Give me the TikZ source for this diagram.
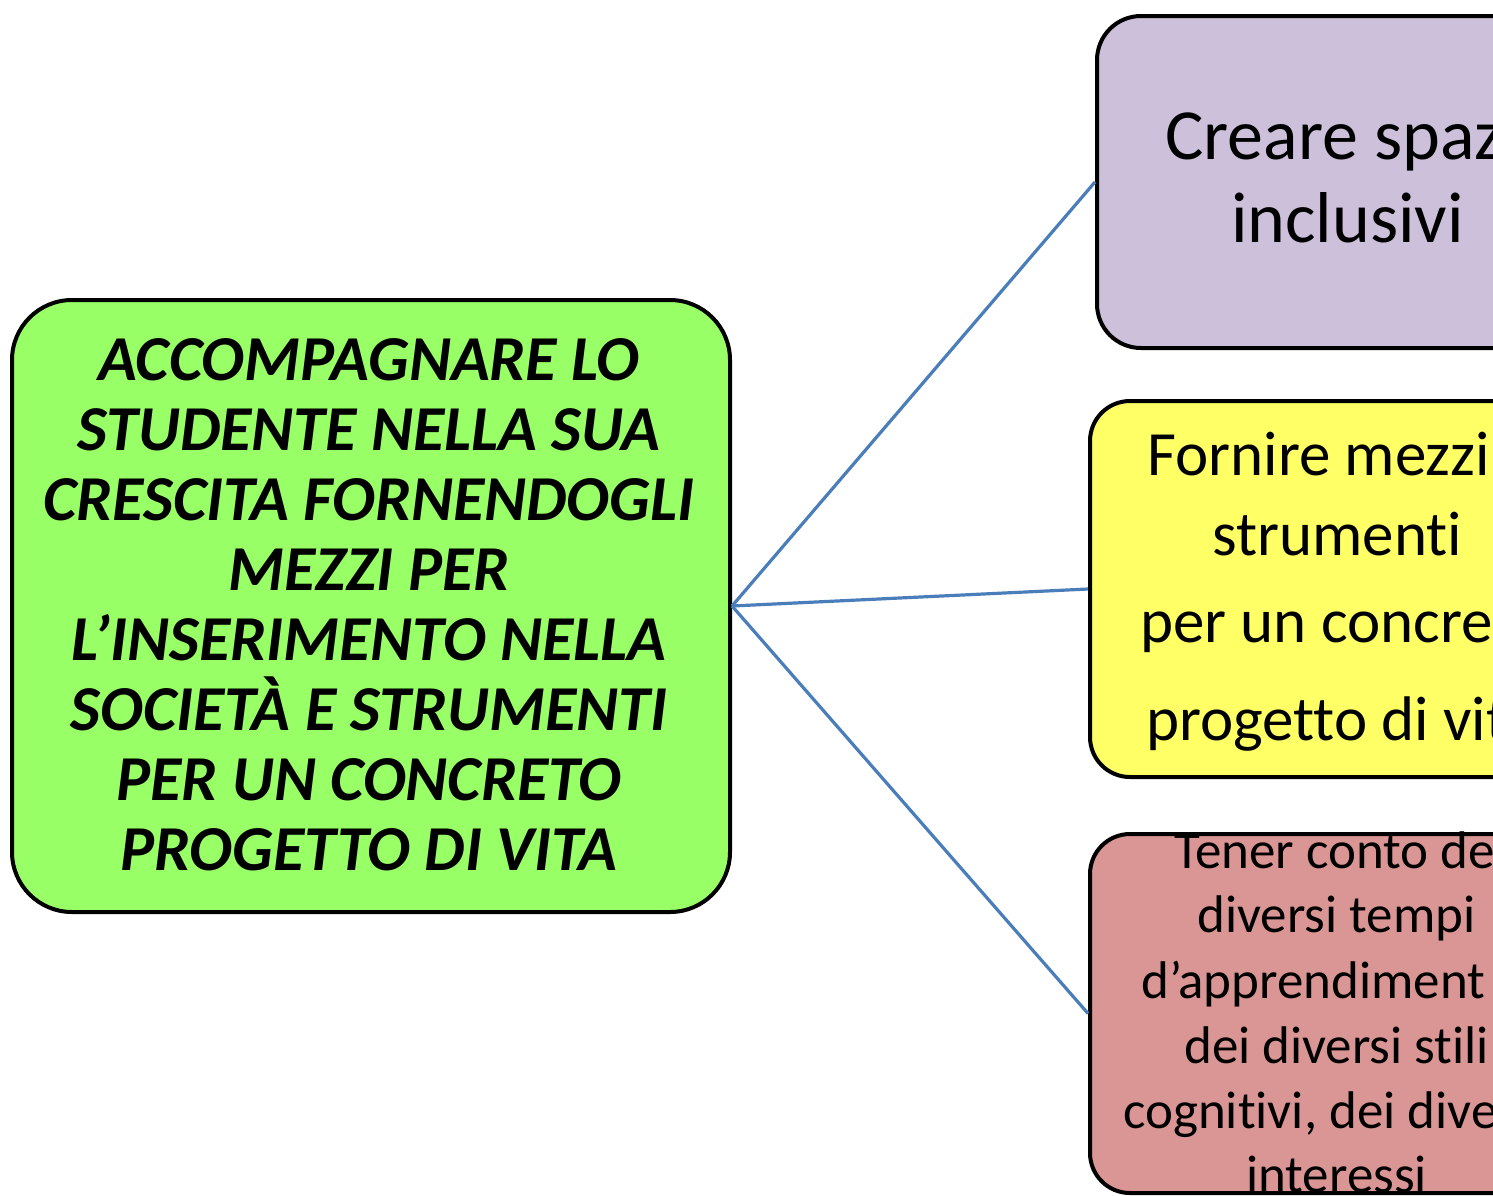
\documentclass[tikz,border=0pt]{standalone}
\usepackage{fontspec}
\setmainfont{Carlito}[Ligatures={NoCommon}]
\definecolor{mainfill}{HTML}{99FF66}
\definecolor{purplefill}{HTML}{CCC0DA}
\definecolor{yellowfill}{HTML}{FFFF66}
\definecolor{redfill}{HTML}{D99694}
\definecolor{linkcol}{HTML}{4A7EBB}
\begin{document}
\begin{tikzpicture}[x=1pt,y=-1pt,
  box/.style={draw=black, line width=4pt, rectangle, inner sep=0pt},
  link/.style={draw=linkcol, line width=3.2pt},
  lineP/.style={anchor=base west, inner sep=0pt, font=\fontsize{72}{86}\selectfont},
  lineY/.style={anchor=base west, inner sep=0pt, font=\fontsize{63}{75}\selectfont},
  lineR/.style={anchor=base west, inner sep=0pt, font=\fontsize{53}{64}\selectfont}]
\useasboundingbox (0,0) rectangle (1493,1195);
\clip (0,0) rectangle (1493,1195);
\fill[white] (0,0) rectangle (1493,1195);
% boxes
\node[box, fill=mainfill, rounded corners=60pt, minimum width=718pt, minimum height=612pt] (main) at (371,606) {};
\node[box, fill=purplefill, rounded corners=44pt, minimum width=460pt, minimum height=332pt] (purple) at (1327,182) {};
\node[box, fill=yellowfill, rounded corners=40pt, minimum width=460pt, minimum height=376pt] (yellow) at (1320,589) {};
\node[box, fill=redfill, rounded corners=40pt, minimum width=460pt, minimum height=359pt] (red) at (1320,1013.5) {};
% connectors
\draw[link] (main.east) -- (purple.west);
\draw[link] (main.east) -- (yellow.west);
\draw[link] (main.east) -- (red.west);
% main text
\node[align=center, inner sep=0pt, font=\fontsize{64}{70}\selectfont\bfseries\itshape] (maintext) at (369,605)
{ACCOMPAGNARE LO\\STUDENTE NELLA SUA\\CRESCITA FORNENDOGLI\\MEZZI PER\\L’INSERIMENTO NELLA\\SOCIETÀ E STRUMENTI\\PER UN CONCRETO\\PROGETTO DI VITA};
% purple text
\node[lineP] (p1) at (1165,159) {Creare spaz};
\node[lineP] (p2) at (1231,242) {inclusivi};
% yellow text
\node[lineY] (y1) at (1147,475) {Fornire mezzi};
\node[lineY] (y2) at (1212,555) {strumenti};
\node[lineY] (y3) at (1140,642) {per un concre};
\node[lineY] (y4) at (1146,740) {progetto di vit};
% red text
\node[lineR] (r1) at (1174,868) {Tener conto de};
\node[lineR] (r2) at (1197,932) {diversi tempi};
\node[lineR] (r3) at (1141,998) {d’apprendiment};
\node[lineR] (r4) at (1184,1063) {dei diversi stili};
\node[lineR] (r5) at (1123,1128) {cognitivi, dei dive};
\node[lineR] (r6) at (1246,1192) {interessi};
\end{tikzpicture}
\end{document}
